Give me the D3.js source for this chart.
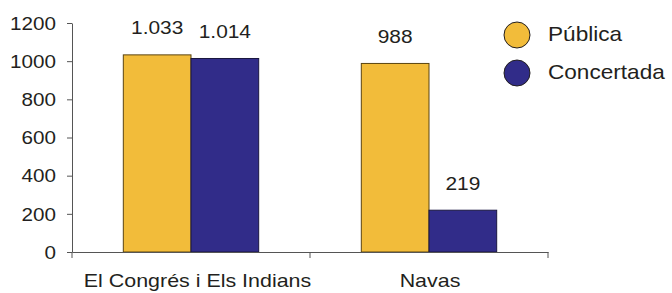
<!DOCTYPE html>
<html><head><meta charset="utf-8">
<script src="https://cdn.jsdelivr.net/npm/d3@7"></script>
<style>body{margin:0;background:#fff}svg{display:block}text{font-family:"Liberation Sans",Arial,sans-serif;fill:#231f20}</style>
</head><body><svg id="c" width="672" height="293"></svg>
<script>
const categories = ["El Congrés i Els Indians", "Navas"];
const series = ["Pública", "Concertada"];
const publica = [1033, 988];
const concertada = [1014, 219];
const valueLabels = [["1.033", "988"], ["1.014", "219"]];
const yTicks = [0, 200, 400, 600, 800, 1000, 1200];
const colors = ["#F2BC3A", "#312C89"];
const strokes = ["#5a4410", "#1a1740"];

(function () {
const svg = d3.select("#c");
const mLeft = 72, mRight = 548, mTop = 23, mBottom = 252;
const x0 = d3.scaleBand().domain(categories).range([mLeft, mRight]).padding(0);
const x1 = d3.scaleBand().domain(series).range([0, x0.bandwidth()]).paddingInner(0).paddingOuter(0.758);
const y = d3.scaleLinear().domain([0, 1200]).range([mBottom, mTop]);
const values = [publica, concertada];

// bars
series.forEach((s, si) => {
  svg.append("g").selectAll("rect").data(categories).join("rect")
    .attr("x", c => x0(c) + x1(s))
    .attr("y", (c, i) => y(values[si][i]))
    .attr("width", x1.bandwidth())
    .attr("height", (c, i) => y(0) - y(values[si][i]))
    .attr("fill", colors[si])
    .attr("stroke", strokes[si]).attr("stroke-width", 1);
  svg.append("g").selectAll("text").data(categories).join("text")
    .attr("transform", (c, i) => `translate(${x0(c) + x1(s) + x1.bandwidth() / 2},${y(values[si][i]) - 20.5}) scale(1.1,1)`)
    .attr("text-anchor", "middle").style("font-size", "19px")
    .text((c, i) => valueLabels[si][i]);
});

// y axis
const sxT = 1.18;
const ya = svg.append("g").attr("transform", `translate(${mLeft},0)`)
  .call(d3.axisLeft(y).tickValues(yTicks).tickSize(5).tickSizeOuter(0).tickFormat(d3.format("d")));
ya.select(".domain").attr("stroke", "#555");
ya.selectAll(".tick line").attr("stroke", "#555");
ya.selectAll(".tick text").attr("x", -16 / sxT).attr("transform", `scale(${sxT},1)`)
  .attr("dy", "0.36em").style("font-size", "17.5px").attr("fill", "#231f20").attr("font-family", null);

// x axis
const labelShift = [6.5, 1];
const xa = svg.append("g").attr("transform", `translate(0,${mBottom})`)
  .call(d3.axisBottom(x0).tickSize(0).tickSizeOuter(0));
xa.select(".domain").attr("stroke", "#555");
xa.selectAll(".tick text").attr("y", 0).attr("dy", null)
  .attr("transform", (d, i) => `translate(${labelShift[i]},34.5) scale(1.225,1)`)
  .style("font-size", "17.5px").attr("fill", "#231f20").attr("font-family", null);
const bounds = [mLeft].concat(categories.map(c => x0(c) + x0.bandwidth()));
svg.append("g").selectAll("line").data(bounds).join("line")
  .attr("x1", d => d).attr("x2", d => d).attr("y1", mBottom).attr("y2", mBottom + 6)
  .attr("stroke", "#555");

// legend
const lg = svg.append("g");
series.forEach((s, i) => {
  const cy = 35 + i * 38;
  lg.append("circle").attr("cx", 517).attr("cy", cy).attr("r", 13)
    .attr("fill", colors[i]).attr("stroke", "#231f20").attr("stroke-width", 1);
  lg.append("text").attr("transform", `translate(548,${cy + 6}) scale(1.13,1)`)
    .style("font-size", "20px").text(s);
});
})();
</script></body></html>
